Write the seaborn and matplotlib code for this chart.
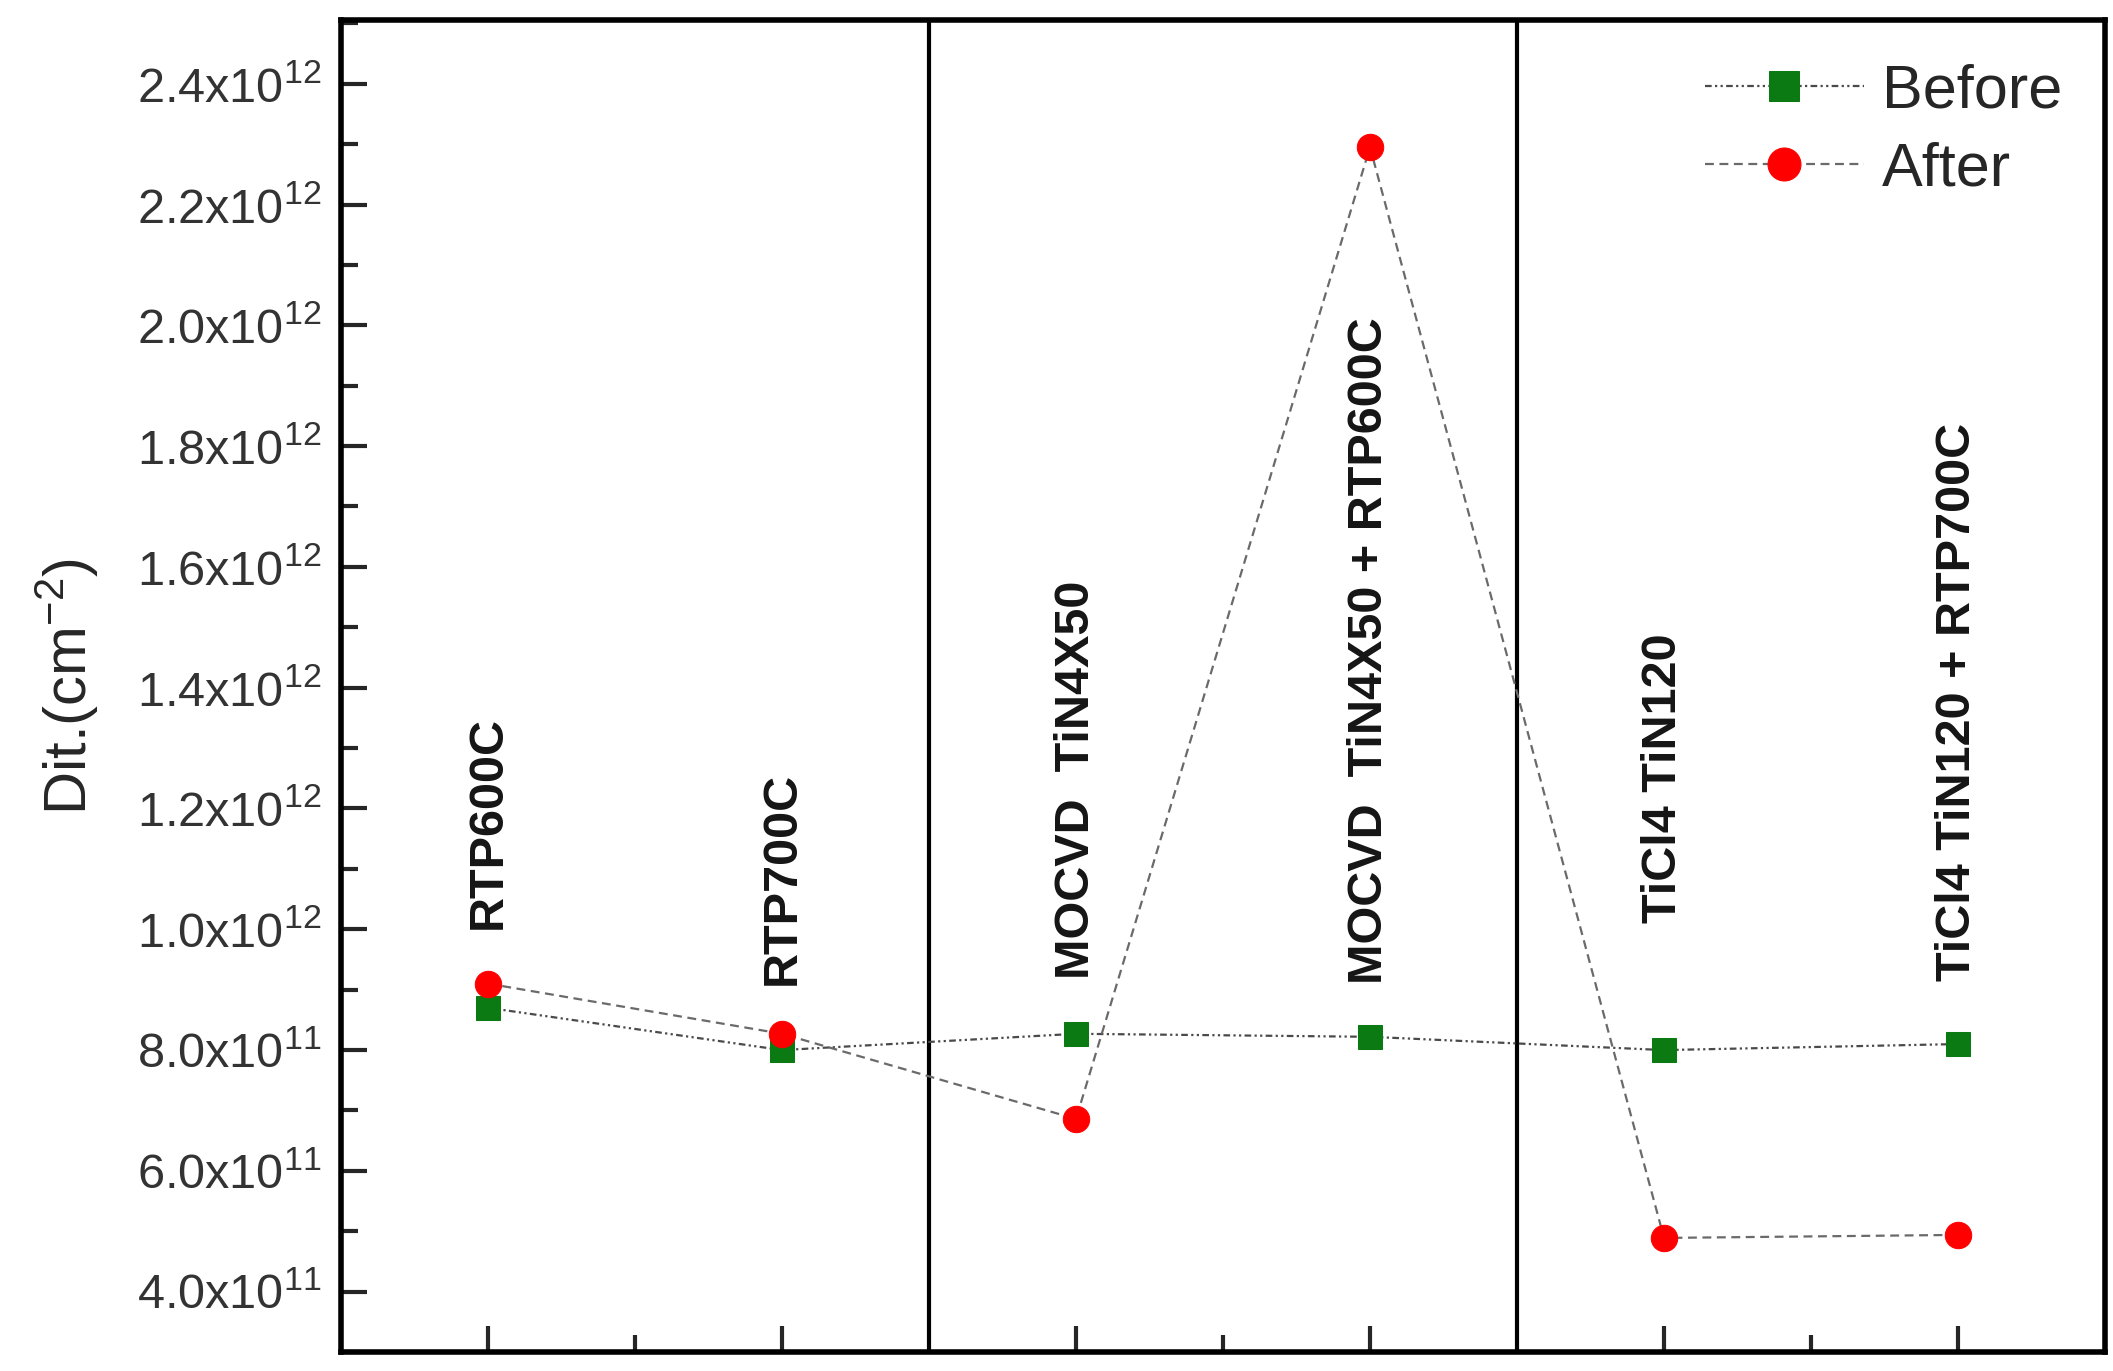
import numpy as np
import pandas as pd
import matplotlib
matplotlib.use("Agg")
import matplotlib.pyplot as plt
import seaborn as sns
from matplotlib.ticker import FixedLocator, MultipleLocator

categories = ["RTP600C", "RTP700C", "MOCVD  TiN4X50", "MOCVD  TiN4X50 + RTP600C",
              "TiCl4 TiN120", "TiCl4 TiN120 + RTP700C"]
before = [8.7e11, 8.0e11, 8.27e11, 8.22e11, 8.0e11, 8.1e11]
after = [9.1e11, 8.27e11, 6.86e11, 2.295e12, 4.89e11, 4.94e11]
yticks = [4e11, 6e11, 8e11, 1.0e12, 1.2e12, 1.4e12, 1.6e12, 1.8e12, 2.0e12, 2.2e12, 2.4e12]
ytick_labels = ["4.0x10$^{11}$", "6.0x10$^{11}$", "8.0x10$^{11}$", "1.0x10$^{12}$",
                "1.2x10$^{12}$", "1.4x10$^{12}$", "1.6x10$^{12}$", "1.8x10$^{12}$",
                "2.0x10$^{12}$", "2.2x10$^{12}$", "2.4x10$^{12}$"]
# where each rotated category label starts (data units)
label_y = [1.0e12, 9.07e11, 9.18e11, 9.1e11, 1.01e12, 9.14e11]

sns.set_style("ticks")
plt.rcParams["font.family"] = ["Liberation Sans", "DejaVu Sans"]
plt.rcParams["mathtext.fontset"] = "custom"
plt.rcParams["mathtext.rm"] = "Liberation Sans"
plt.rcParams["mathtext.it"] = "Liberation Sans"

pos = np.arange(1, len(categories) + 1)
df = pd.DataFrame({"pos": pos, "Before": before, "After": after})

fig = plt.figure(figsize=(21.13, 13.71), dpi=100)
ax = fig.add_axes([0.1614, 0.0138, 0.8348, 0.9714])

sns.lineplot(data=df, x="pos", y="Before", ax=ax, color="#4a4a4a", lw=1.6,
             linestyle=(0, (3, 1.5, 1, 1.5, 1, 1.5)), marker="s", markersize=17,
             markerfacecolor="#0b7a12", markeredgecolor="#0b7a12", label="Before")
sns.lineplot(data=df, x="pos", y="After", ax=ax, color="#6a6a6a", lw=1.6,
             linestyle=(0, (4, 2.5)), marker="o", markersize=19,
             markerfacecolor="#ff0000", markeredgecolor="#ff0000", label="After")

for x in [2.5, 4.5]:
    ax.axvline(x, color="black", lw=3, zorder=1)

for x, lab, y in zip(pos, categories, label_y):
    ax.text(x, y, lab, rotation=90, ha="center", va="bottom", fontsize=35,
            fontweight="bold", color="#151515")

ax.set_xlim(0.5, 6.5)
ax.set_ylim(3e11, 2.505e12)
ax.xaxis.set_major_locator(FixedLocator(pos))
ax.xaxis.set_minor_locator(FixedLocator([1.5, 3.5, 5.5]))
ax.set_xticklabels([])
ax.set_yticks(yticks)
ax.set_yticklabels(ytick_labels, fontsize=35, color="#333333")
ax.yaxis.set_minor_locator(MultipleLocator(1e11))
ax.tick_params(axis="both", which="major", direction="in", length=19, width=3, pad=14)
ax.tick_params(axis="both", which="minor", direction="in", length=12, width=3)
ax.set_xlabel("")
ax.set_ylabel("Dit.(cm$^{-2}$)", fontsize=43, labelpad=26)
for s in ax.spines.values():
    s.set_linewidth(4)
    s.set_color("black")

ax.legend(loc="upper right", frameon=False, fontsize=44, handlelength=2.6,
          handletextpad=0.3, labelspacing=0.35, borderaxespad=0.3, markerscale=1.25)

fig.savefig("out.png", dpi=100)
